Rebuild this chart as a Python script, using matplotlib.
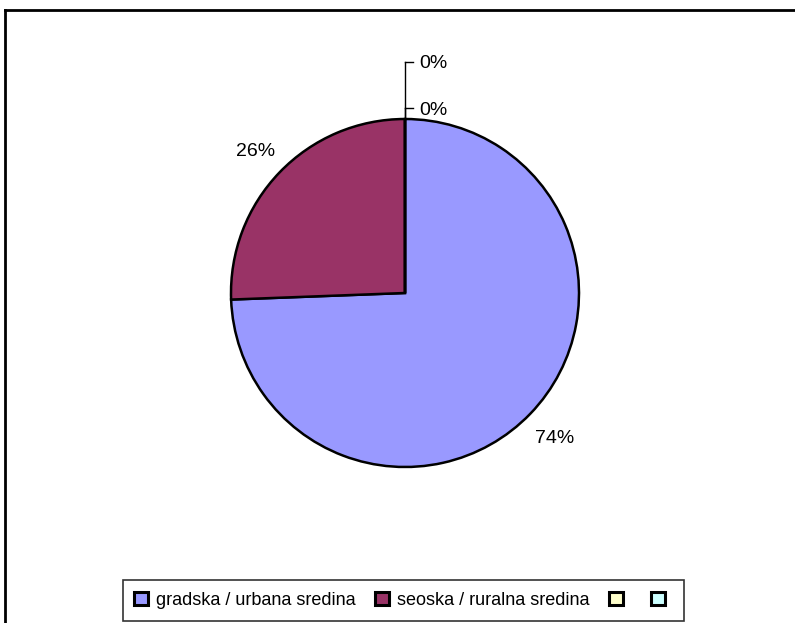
import matplotlib.pyplot as plt
import numpy as np
from matplotlib.lines import Line2D

plt.rcParams['font.family'] = ['Liberation Sans', 'DejaVu Sans']

labels = ['gradska / urbana sredina', 'seoska / ruralna sredina', '', '']
values = [74.4, 25.6, 0.0, 0.0]
colors = ['#9999FF', '#993366', '#FFFFCC', '#CCFFFF']

W, H = 795, 623
fig = plt.figure(figsize=(W / 100, H / 100), dpi=100)

# outer chart frame (runs off the right and bottom edge)
fig.add_artist(Line2D([5 / W, 5 / W], [1 - 10 / H, -0.01], color='black', lw=2,
                      transform=fig.transFigure))
fig.add_artist(Line2D([5 / W, 1.01], [1 - 10 / H, 1 - 10 / H], color='black', lw=2,
                      transform=fig.transFigure))

# pie area: center (405, 293), radius 174 px
r = 174
cx, cy = 405, 293
ax = fig.add_axes([(cx - r) / W, (H - cy - r) / H, 2 * r / W, 2 * r / H])
wedges, _ = ax.pie(values, colors=colors, startangle=90, counterclock=False,
                   wedgeprops=dict(edgecolor='black', linewidth=1.8), radius=1)
ax.set_xlim(-1, 1)
ax.set_ylim(-1, 1)
ax.axis('off')

total = sum(values)
zero_heights = [1.328, 1.063]
zi = 0
for w, v in zip(wedges, values):
    pct = '%d%%' % round(100 * v / total)
    if v > 0:
        ang = np.deg2rad((w.theta1 + w.theta2) / 2)
        ax.text(1.19 * np.cos(ang), 1.19 * np.sin(ang), pct, ha='center',
                va='center_baseline', fontsize=14, clip_on=False)
    else:
        yy = zero_heights[zi]
        ax.plot([0, 0.046], [yy, yy], color='black', lw=1, clip_on=False)
        ax.plot([0, 0], [1.0, yy], color='black', lw=1, clip_on=False)
        ax.text(0.08, yy, pct, ha='left', va='center_baseline', fontsize=14, clip_on=False)
        zi += 1

leg = fig.legend(wedges, labels, loc='center', bbox_to_anchor=(403.5 / W, 1 - 600.5 / H),
                 ncol=4, fontsize=13, frameon=True, fancybox=False, edgecolor='black',
                 handlelength=0.75, handleheight=0.75, handletextpad=0.45, columnspacing=1.1,
                 borderpad=0.65, borderaxespad=0)
leg.get_frame().set_linewidth(1.2)
for h in leg.legend_handles:
    h.set_linewidth(2.2)

fig.savefig('out.png', dpi=100)
